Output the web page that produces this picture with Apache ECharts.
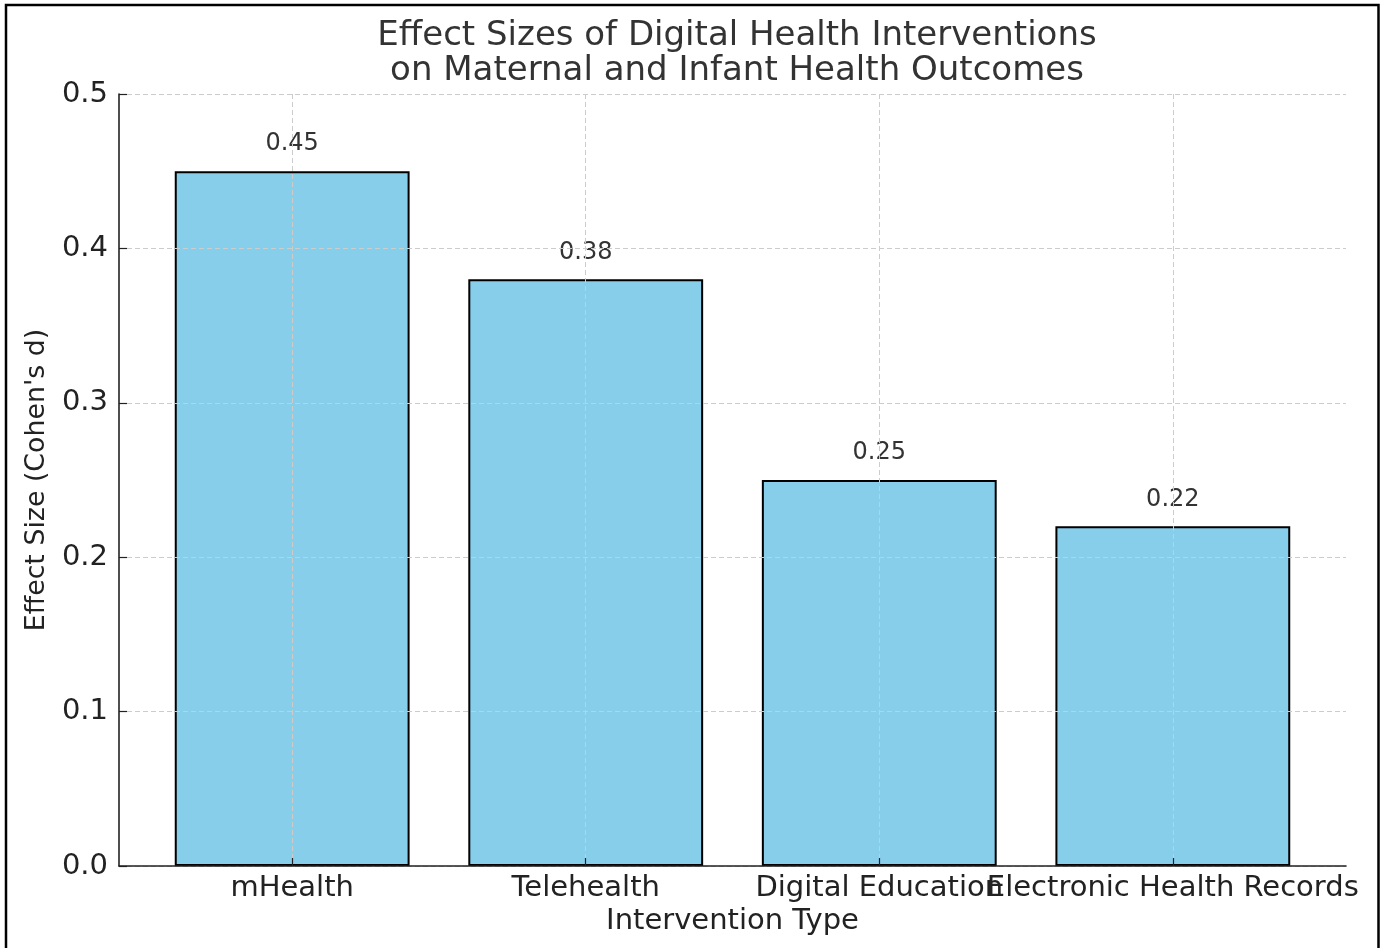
<!DOCTYPE html>
<html>
<head>
<meta charset="utf-8">
<script src="https://cdn.jsdelivr.net/npm/echarts@6/dist/echarts.min.js"></script>
<style>
html,body{margin:0;padding:0;background:#fff;}
#chart{width:1386px;height:948px;}
</style>
</head>
<body>
<div id="chart"></div>
<script>
const categories = ['mHealth', 'Telehealth', 'Digital Education', 'Electronic Health Records'];
const effectSizes = [0.45, 0.38, 0.25, 0.22];
const yTicks = [0.0, 0.1, 0.2, 0.3, 0.4, 0.5];
const titleText = 'Effect Sizes of Digital Health Interventions\non Maternal and Infant Health Outcomes';
const xAxisTitle = 'Intervention Type';
const yAxisTitle = "Effect Size (Cohen's d)";

const FONT = 'DejaVu Sans';
const chart = echarts.init(document.getElementById('chart'));
const gridLine = { show: true, lineStyle: { color: '#cccccc', type: [5, 3], width: 1 } };

chart.setOption({
  animation: false,
  textStyle: { fontFamily: FONT },
  title: {
    text: titleText,
    left: 732,
    top: 14,
    textAlign: 'center',
    textStyle: { fontFamily: FONT, fontSize: 34, fontWeight: 'normal', color: '#333', lineHeight: 35 }
  },
  graphic: [{
    type: 'rect',
    shape: { x: 6, y: 5, width: 1372.5, height: 980 },
    style: { fill: 'none', stroke: '#000', lineWidth: 2.5 },
    silent: true,
    z: 100
  }],
  grid: [
    { left: 119, right: 40, top: 94, bottom: 82 },
    { left: 145.4, right: 66.4, top: 94, bottom: 82 }
  ],
  xAxis: [
    {
      type: 'value', gridIndex: 0, min: 0, max: 1, z: 6,
      axisLine: { show: true, lineStyle: { color: '#222', width: 1.6 } },
      axisTick: { show: false }, axisLabel: { show: false }, splitLine: { show: false },
      name: xAxisTitle, nameLocation: 'middle', nameGap: 41,
      nameTextStyle: { fontFamily: FONT, fontSize: 29, color: '#222' }
    },
    {
      type: 'category', gridIndex: 1, data: categories, boundaryGap: true, z: 5,
      axisLine: { show: false },
      axisTick: { show: true, inside: true, length: 8, alignWithLabel: true, lineStyle: { color: '#222', width: 1.2 } },
      splitLine: Object.assign({ alignWithLabel: true }, gridLine),
      axisLabel: { fontFamily: FONT, fontSize: 29, color: '#222', margin: 8, interval: 0 }
    }
  ],
  yAxis: [
    {
      type: 'value', gridIndex: 0, min: 0, max: 0.5, interval: 0.1, z: 5,
      axisLine: { show: true, lineStyle: { color: '#222', width: 1.6 } },
      axisTick: { show: true, inside: true, length: 8, lineStyle: { color: '#222', width: 1.2 } },
      splitLine: gridLine,
      axisLabel: { fontFamily: FONT, fontSize: 29, color: '#222', margin: 11,
        formatter: v => { const t = yTicks.find(x => Math.abs(x - v) < 1e-9); return (t !== undefined ? t : v).toFixed(1); } },
      name: yAxisTitle, nameLocation: 'middle', nameGap: 68, nameRotate: 90,
      nameTextStyle: { fontFamily: FONT, fontSize: 26.8, color: '#222' }
    },
    {
      type: 'value', gridIndex: 1, min: 0, max: 0.5, interval: 0.1, show: false
    }
  ],
  series: [{
    type: 'bar',
    xAxisIndex: 1, yAxisIndex: 1,
    data: effectSizes,
    barWidth: '80%',
    z: 1,
    itemStyle: { color: '#87CEEB', borderColor: '#000', borderWidth: 2 },
    label: {
      show: true, position: 'top', distance: 15,
      fontFamily: FONT, fontSize: 24, color: '#333',
      formatter: p => p.value.toFixed(2)
    }
  }]
});
</script>
</body>
</html>
